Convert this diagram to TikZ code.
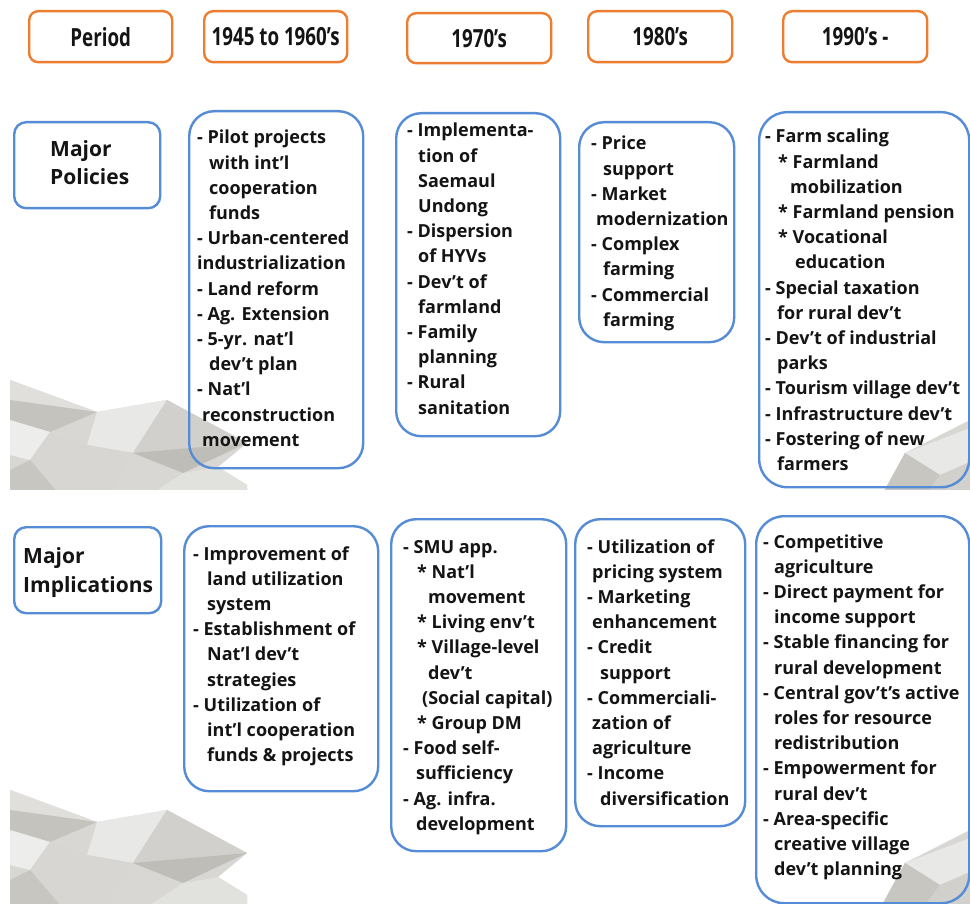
\documentclass[tikz,border=0pt]{standalone}
\usepackage{fontspec}
\usepackage{graphicx}
\setmainfont{Open Sans}
\definecolor{hdrorange}{RGB}{237,125,49}
\definecolor{boxblue}{RGB}{86,140,214}
\definecolor{txt}{RGB}{20,20,20}
\definecolor{gA}{HTML}{D8D7D3}
\definecolor{gB}{HTML}{E0DFDC}
\definecolor{gC}{HTML}{C4C3BE}
\definecolor{gD}{HTML}{E8E8E6}
\definecolor{gE}{HTML}{D1D0CC}
\definecolor{gF}{HTML}{BEBDB8}
\definecolor{gG}{HTML}{EDEDEB}
\definecolor{gH}{HTML}{D7D6D2}
\definecolor{gI}{HTML}{C7C6C1}
\definecolor{gJ}{HTML}{E1E1DE}
\newcommand\blockoflines[1]{\vtop{\baselineskip=25.2pt\lineskip=0pt\lineskiplimit=-20pt #1}}
\newcommand\rowl[2][0]{\hbox{\hspace*{#1pt}#2}}
\newcommand\hdrtext[1]{\scalebox{0.75}[1]{\fontsize{25}{25}\selectfont\bfseries #1}}
\newcommand\leftfacets{%
  \fill[gA] (10,380) -- (97,412) -- (167,400) -- (247,443) -- (218,467) -- (247,485) -- (247,495) -- (10,495) -- cycle;
  \fill[gB] (10,380) -- (97,412) -- (10,400) -- cycle;
  \fill[gC] (10,400) -- (97,412) -- (50,432) -- (10,420) -- cycle;
  \fill[gD] (97,412) -- (167,400) -- (133,453) -- (87,445) -- cycle;
  \fill[gE] (167,400) -- (247,443) -- (133,453) -- cycle;
  \fill[gF] (133,453) -- (247,443) -- (183,473) -- cycle;
  \fill[gG] (10,420) -- (50,432) -- (30,460) -- (10,455) -- cycle;
  \fill[gH] (50,432) -- (87,445) -- (133,453) -- (110,495) -- (60,495) -- (30,460) -- cycle;
  \fill[gI] (30,460) -- (60,495) -- (10,495) -- (10,470) -- cycle;
  \fill[gJ] (183,473) -- (218,467) -- (247,485) -- (247,495) -- (150,495) -- cycle;
}
\newcommand\rightfacets{%
  \fill[gA] (882,495) -- (905,453) -- (970,420) -- (970,495) -- cycle;
  \fill[gD] (905,453) -- (970,428) -- (970,462) -- (940,475) -- cycle;
  \fill[gI] (905,453) -- (940,475) -- (925,495) -- (882,495) -- cycle;
  \fill[gE] (940,475) -- (970,462) -- (970,495) -- (925,495) -- cycle;
}
\begin{document}
\begin{tikzpicture}[x=1pt,y=-1pt,
  hdr/.style={draw=hdrorange, line width=2.4pt, rounded corners=9pt, anchor=north west, inner sep=0pt, text=txt},
  bbox/.style={draw=boxblue, line width=2.4pt, rounded corners=#1, anchor=north west, inner sep=0pt},
  bodytext/.style={anchor=base west, inner sep=0pt, text=txt, font=\fontsize{18}{25}\selectfont\bfseries},
  labeltext/.style={anchor=base west, inner sep=0pt, text=txt, font=\fontsize{21}{28}\selectfont\bfseries}]
\useasboundingbox (0,0) rectangle (970,904);
\fill[white] (0,0) rectangle (970,904);
% background facets
\begin{scope}
  \clip (0,370) rectangle (970,489);
  \leftfacets
  \rightfacets
\end{scope}
\begin{scope}[yshift=-410pt]
  \clip (0,370) rectangle (970,494);
  \leftfacets
  \rightfacets
\end{scope}
% headers
\node[hdr, minimum width=143pt, minimum height=51pt] (hperiod) at (28,10) {\hdrtext{Period}};
\node[hdr, minimum width=143pt, minimum height=51pt] (h45) at (203,10) {\hdrtext{1945 to 1960’s}};
\node[hdr, minimum width=144pt, minimum height=50pt] (h70) at (406,12) {\hdrtext{1970’s}};
\node[hdr, minimum width=144pt, minimum height=51pt] (h80) at (587,10) {\hdrtext{1980’s}};
\node[hdr, minimum width=144pt, minimum height=51pt] (h90) at (782,10) {\hdrtext{1990’s -}};
% row labels
\node[bbox=12pt, minimum width=146pt, minimum height=86pt] (lpol) at (13,121) {};
\node[labeltext] (lpolt) at (50,157) {\vtop{\baselineskip=28pt\hbox{Major}\hbox{Policies}}};
\node[bbox=12pt, minimum width=147pt, minimum height=86pt] (limp) at (13,526) {};
\node[labeltext] (limpt) at (23,563) {\vtop{\baselineskip=29pt\hbox{Major}\hbox{Implications}}};
% policy boxes
\node[bbox=25pt, minimum width=174pt, minimum height=357pt] (p45) at (188,110) {};
\node[bodytext] (p45t) at (197,144) {\blockoflines{%
  \rowl{- Pilot projects}
  \rowl[12]{with int’l}
  \rowl[12]{cooperation}
  \rowl[12]{funds}
  \rowl{- Urban-centered}
  \rowl{industrialization}
  \rowl{- Land reform}
  \rowl{- Ag. Extension}
  \rowl{- 5-yr. nat’l}
  \rowl[12]{dev’t plan}
  \rowl{- Nat’l}
  \rowl[5]{reconstruction}
  \rowl[5]{movement}}};
\node[bbox=25pt, minimum width=164pt, minimum height=323pt] (p70) at (395,112) {};
\node[bodytext] (p70t) at (407,137) {\blockoflines{%
  \rowl{- Implementa-}
  \rowl[11]{tion of}
  \rowl[11]{Saemaul}
  \rowl[11]{Undong}
  \rowl{- Dispersion}
  \rowl[11]{of HYVs}
  \rowl{- Dev’t of}
  \rowl[11]{farmland}
  \rowl{- Family}
  \rowl[11]{planning}
  \rowl{- Rural}
  \rowl[11]{sanitation}}};
\node[bbox=25pt, minimum width=155pt, minimum height=220pt] (p80) at (578,121) {};
\node[bodytext] (p80t) at (591,150) {\blockoflines{%
  \rowl{- Price}
  \rowl[12]{support}
  \rowl{- Market}
  \rowl[5]{modernization}
  \rowl{- Complex}
  \rowl[12]{farming}
  \rowl{- Commercial}
  \rowl[12]{farming}}};
\node[bbox=28pt, minimum width=210pt, minimum height=375pt] (p90) at (758,111) {};
\node[bodytext] (p90t) at (765,143) {\blockoflines{%
  \rowl{- Farm scaling}
  \rowl[13]{* Farmland}
  \rowl[25]{mobilization}
  \rowl[13]{* Farmland pension}
  \rowl[13]{* Vocational}
  \rowl[30]{education}
  \rowl{- Special taxation}
  \rowl[12]{for rural dev’t}
  \rowl{- Dev’t of industrial}
  \rowl[12]{parks}
  \rowl{- Tourism village dev’t}
  \rowl{- Infrastructure dev’t}
  \rowl{- Fostering of new}
  \rowl[12]{farmers}}};
% implication boxes
\node[bbox=25pt, minimum width=194pt, minimum height=265pt] (i45) at (183,525) {};
\node[bodytext] (i45t) at (193,560) {\blockoflines{%
  \rowl{- Improvement of}
  \rowl[14]{land utilization}
  \rowl[14]{system}
  \rowl{- Establishment of}
  \rowl[14]{Nat’l dev’t}
  \rowl[14]{strategies}
  \rowl{- Utilization of}
  \rowl[14]{int’l cooperation}
  \rowl[14]{funds \& projects}}};
\node[bbox=25pt, minimum width=175pt, minimum height=332pt] (i70) at (390,518) {};
\node[bodytext] (i70t) at (403,553) {\blockoflines{%
  \rowl{- SMU app.}
  \rowl[14]{* Nat’l}
  \rowl[25]{movement}
  \rowl[14]{* Living env’t}
  \rowl[14]{* Village-level}
  \rowl[25]{dev’t}
  \rowl[19]{(Social capital)}
  \rowl[14]{* Group DM}
  \rowl{- Food self-}
  \rowl[13]{sufficiency}
  \rowl{- Ag. infra.}
  \rowl[13]{development}}};
\node[bbox=25pt, minimum width=170pt, minimum height=307pt] (i80) at (574,518) {};
\node[bodytext] (i80t) at (587,553) {\blockoflines{%
  \rowl{- Utilization of}
  \rowl[5]{pricing system}
  \rowl{- Marketing}
  \rowl[5]{enhancement}
  \rowl{- Credit}
  \rowl[13]{support}
  \rowl{- Commerciali-}
  \rowl[5]{zation of}
  \rowl[5]{agriculture}
  \rowl{- Income}
  \rowl[13]{diversification}}};
\node[bbox=28pt, minimum width=213pt, minimum height=387pt] (i90) at (755,515) {};
\node[bodytext] (i90t) at (763,548) {\blockoflines{%
  \rowl{- Competitive}
  \rowl[11]{agriculture}
  \rowl{- Direct payment for}
  \rowl[11]{income support}
  \rowl{- Stable financing for}
  \rowl[11]{rural development}
  \rowl{- Central gov’t’s active}
  \rowl[11]{roles for resource}
  \rowl[11]{redistribution}
  \rowl{- Empowerment for}
  \rowl[11]{rural dev’t}
  \rowl{- Area-specific}
  \rowl[11]{creative village}
  \rowl[11]{dev’t planning}}};
\end{tikzpicture}
\end{document}
